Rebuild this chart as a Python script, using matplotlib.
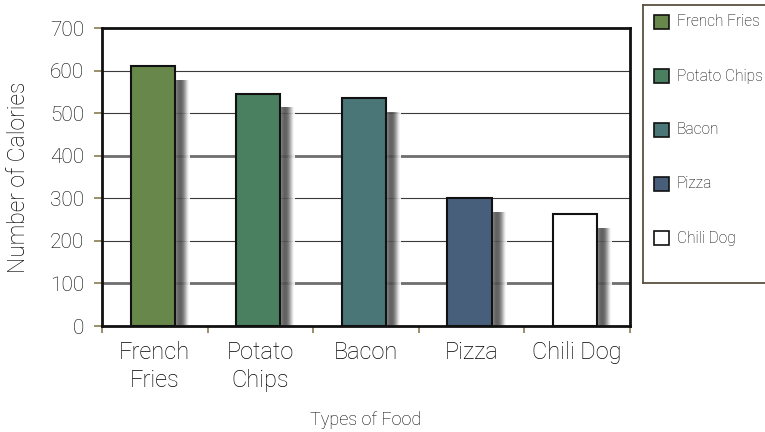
import numpy as np
import matplotlib.pyplot as plt
from matplotlib.patches import Rectangle

foods = ["French Fries", "Potato Chips", "Bacon", "Pizza", "Chili Dog"]
tick_labels = ["French\nFries", "Potato\nChips", "Bacon", "Pizza", "Chili Dog"]
calories = [610, 546, 535, 300, 263]
colors = ["#68874a", "#4a7f5f", "#4a7677", "#485f7c", "#ffffff"]

plt.rcParams['font.family'] = ['Roboto', 'DejaVu Sans']
plt.rcParams['font.weight'] = 'light'
plt.rcParams['axes.labelweight'] = 'light'
plt.rcParams['text.color'] = '#000000'

fig = plt.figure(figsize=(7.65, 4.32), dpi=100)
ax = fig.add_axes([102/765, 1 - 326/432, 528/765, 298/432])

x = np.arange(len(foods))
w = 0.42
off = -0.02

# grid lines, every other one heavier like the original
for yv in range(100, 700, 100):
    if yv in (100, 400):
        ax.axhline(yv, color="#6e6e6e", lw=2.0, zorder=1)
    else:
        ax.axhline(yv, color="#3a3a3a", lw=0.8, zorder=1)

# soft drop shadows to the right of each bar
prof = np.array([0.5, 0.4, 0.34, 0.31, 0.32, 0.38, 0.48, 0.62, 0.78, 0.92, 1.0])
grad = np.tile(prof, (2, 1))
for xi, v in zip(x, calories):
    xr = xi + off + w / 2
    ax.imshow(grad, cmap="gray", vmin=0, vmax=1, aspect="auto",
              extent=[xr, xr + 0.14, 0, v - 33], zorder=2, alpha=0.9,
              interpolation="bilinear")

ax.bar(x + off, calories, width=w, color=colors, edgecolor="#111111",
       linewidth=1.5, zorder=3)

ax.set_xlim(-0.5, 4.5)
ax.set_ylim(0, 700)
ax.set_yticks(range(0, 800, 100))
ax.tick_params(axis="y", labelsize=15, length=6, width=1.2, color="#8a7a50",
               pad=7, labelcolor="#000000")
ax.set_xticks(np.arange(-0.5, 5, 1))
ax.set_xticklabels([])
ax.tick_params(axis="x", length=5, width=1.2, color="#8a7a50")
ax.set_xticks(x, minor=True)
ax.set_xticklabels(tick_labels, minor=True, fontsize=17, linespacing=1.25)
ax.tick_params(axis="x", which="minor", length=0, pad=11, labelcolor="#000000")

for s in ax.spines.values():
    s.set_linewidth(2)
    s.set_color("#111111")

ax.set_ylabel("Number of Calories", fontsize=16.5, labelpad=14)
ax.set_xlabel("Types of Food", fontsize=13, labelpad=14)

# legend box, partly running off the right edge like the original
lax = fig.add_axes([643/765, 1 - 283/432, 0.2, 278/432])
lax.set_xlim(0, 150)
lax.set_ylim(278, 0)
lax.set_xticks([])
lax.set_yticks([])
for s in lax.spines.values():
    s.set_linewidth(1.3)
    s.set_color("#5a5040")
for i, (name, c) in enumerate(zip(foods, colors)):
    yc = 17 + i * 54
    lax.add_patch(Rectangle((11, yc - 7), 14, 14, facecolor=c,
                            edgecolor="#111111", lw=1.2))
    lax.text(33, yc, name, fontsize=11.2, va="center", ha="left")

fig.savefig("out.png", dpi=100)
